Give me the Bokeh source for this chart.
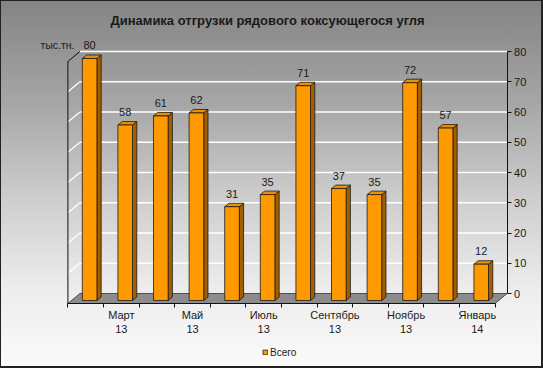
from bokeh.plotting import figure
from bokeh.models import Range1d, FixedTicker, Label, Legend, LegendItem
from bokeh.core.properties import value
from bokeh.embed import file_html
from bokeh.resources import INLINE

# ---- data ----
categories = ["Февраль 13", "Март 13", "Апрель 13", "Май 13", "Июнь 13", "Июль 13",
              "Август 13", "Сентябрь 13", "Октябрь 13", "Ноябрь 13", "Декабрь 13", "Январь 14"]
values = [80, 58, 61, 62, 31, 35, 71, 37, 35, 72, 57, 12]
label_idx = [1, 3, 5, 7, 9, 11]
tick_labels = ["Март\n13", "Май\n13", "Июль\n13", "Сентябрь\n13", "Ноябрь\n13", "Январь\n14"]
y_ticks = [0, 10, 20, 30, 40, 50, 60, 70, 80]
title_text = "Динамика отгрузки рядового коксующегося угля"
unit_text = "тыс.тн."
series_name = "Всего"

FONT = "Liberation Sans"
n = len(values)

# 3D geometry (in data units)
DX, DY = 0.337, 3.306          # full depth offset of the floor / walls
BOFF = 0.11                    # bar centre offset from category position
BW = 0.41                      # bar front width
BB = -2.31                     # bar front bottom
ddx, ddy = 0.12, 1.15          # bar depth
YMAX = 80

p = figure(width=543, height=368,
           x_range=Range1d(-2.3933, 12.8596), y_range=Range1d(-24.793, 96.860),
           min_border_left=0, min_border_right=0, min_border_top=0, min_border_bottom=0,
           output_backend="svg", toolbar_location=None,
           background_fill_color=None, border_fill_color=None, outline_line_color=None,
           y_axis_location="right")
p.styles = {
    "background": "linear-gradient(to bottom, #848484 0%, #a6a6a6 28%, #cfcfcf 55%, #ececec 78%, #fbfbfb 100%)",
    "box-shadow": "inset 1px 1px 0 #222222, inset -2px -2px 0 #222222",
}
p.xgrid.visible = False
p.ygrid.visible = False

x0f, x1f = -0.5, n - 0.5
yf = -DY

# floor
p.patch([x0f, x1f, x1f + DX, x0f + DX], [yf, yf, 0, 0],
        fill_color="#8c8c8c", line_color="#333333", line_width=0.8)

# back wall gridlines
grid_vals = y_ticks[1:]
p.segment(x0=[x0f + DX] * len(grid_vals), y0=grid_vals,
          x1=[x1f + DX] * len(grid_vals), y1=grid_vals,
          line_color="white", line_width=1.5)
# left wall gridlines (diagonal)
lw = y_ticks[1:-1]
p.segment(x0=[x0f] * len(lw), y0=[v - DY for v in lw],
          x1=[x0f + DX] * len(lw), y1=lw,
          line_color="white", line_width=1.2)
# left wall front edge and top edge
p.line([x0f, x0f, x0f + DX], [yf, YMAX - DY, YMAX], line_color="#111111", line_width=1)

# bars
L = [i + BOFF - BW / 2 for i in range(n)]
R = [i + BOFF + BW / 2 for i in range(n)]
T = [v + BB for v in values]
side_xs = [[r, r + ddx, r + ddx, r] for r in R]
side_ys = [[BB, BB + ddy, t + ddy, t] for t in T]
top_xs = [[l, r, r + ddx, l + ddx] for l, r in zip(L, R)]
top_ys = [[t, t, t + ddy, t + ddy] for t in T]
p.patches(side_xs, side_ys, fill_color="#a35e00", line_color="#1a1a1a", line_width=0.8)
p.patches(top_xs, top_ys, fill_color="#ee8f00", line_color="#1a1a1a", line_width=0.8)
front = p.quad(left=L, right=R, bottom=[BB] * n, top=T,
               fill_color="#ff9900", line_color="#1a1a1a", line_width=0.8)

# value labels
p.text(x=[i + BOFF for i in range(n)], y=[v + 2.0 for v in values], text=[str(v) for v in values],
       text_align="center", text_baseline="middle", text_font=value(FONT),
       text_font_size="11px", text_color="#1a1a1a")

# x axis (at the front edge of the floor)
xa = p.xaxis[0]
xa.fixed_location = yf
xa.ticker = FixedTicker(ticks=label_idx, minor_ticks=[k - 0.5 for k in range(n + 1)])
xa.major_label_overrides = {i: t for i, t in zip(label_idx, tick_labels)}
xa.major_tick_line_color = None
xa.major_tick_in = 0
xa.major_tick_out = 0
xa.minor_tick_in = 0
xa.minor_tick_out = 4
xa.minor_tick_line_color = "#111111"
xa.axis_line_color = "#111111"
xa.bounds = (x0f, x1f)
xa.major_label_standoff = 1
xa.major_label_text_font = FONT
xa.major_label_text_font_size = "11px"
xa.major_label_text_color = "#1a1a1a"

# right y axis (at the back wall's right edge)
ya = p.yaxis[0]
ya.fixed_location = x1f + DX
ya.ticker = FixedTicker(ticks=y_ticks)
ya.bounds = (0, YMAX)
ya.major_tick_in = 0
ya.major_tick_out = 4
ya.minor_tick_line_color = None
ya.axis_line_color = "#111111"
ya.major_tick_line_color = "#111111"
ya.major_label_standoff = 3
ya.major_label_text_font = FONT
ya.major_label_text_font_size = "11px"
ya.major_label_text_color = "#1a1a1a"

# title and unit
p.add_layout(Label(x=5.107, y=90.25, text=title_text, text_align="center", text_baseline="middle",
                   text_font=FONT, text_font_style="bold", text_font_size="13px", text_color="#1a1a1a"))
p.add_layout(Label(x=-1.27, y=82.0, text=unit_text, text_align="left", text_baseline="middle",
                   text_font=FONT, text_font_size="10.5px", text_color="#1a1a1a"))

# legend
legend = Legend(items=[LegendItem(label=series_name, renderers=[front])],
                location=(262, 10), orientation="horizontal",
                background_fill_alpha=0, border_line_color=None,
                padding=0, margin=0, spacing=0,
                glyph_width=6, glyph_height=6, label_standoff=2, label_height=12,
                label_text_font=FONT, label_text_font_size="10px", label_text_color="#1a1a1a")
p.add_layout(legend)

open("out.html", "w").write(file_html(p, INLINE))
